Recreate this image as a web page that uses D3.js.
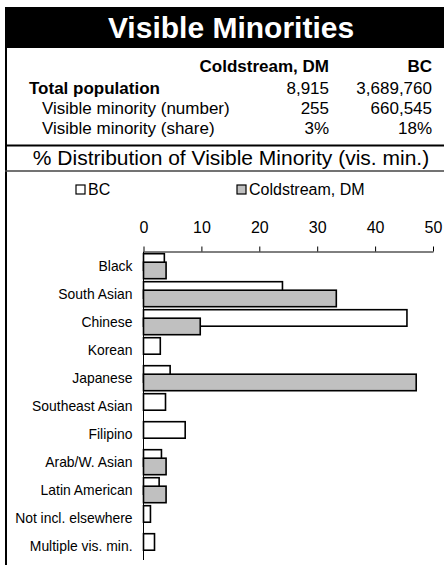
<!DOCTYPE html>
<html><head><meta charset="utf-8">
<script src="https://cdn.jsdelivr.net/npm/d3@7"></script>
<style>
html,body{margin:0;padding:0;background:#fff;}
svg{display:block;font-family:"Liberation Sans",Arial,sans-serif;}
</style></head>
<body>
<svg id="chart" width="444" height="565"></svg>
<script>
const title = "Visible Minorities";
const subtitle = "% Distribution of Visible Minority (vis. min.)";
const columns = ["Coldstream, DM", "BC"];
const rowLabels = ["Total population", "Visible minority (number)", "Visible minority (share)"];
const coldstreamStats = ["8,915", "255", "3%"];
const bcStats = ["3,689,760", "660,545", "18%"];

const categories = ["Black","South Asian","Chinese","Korean","Japanese","Southeast Asian","Filipino","Arab/W. Asian","Latin American","Not incl. elsewhere","Multiple vis. min."];
const bcValues = [3.6, 24.0, 45.5, 2.9, 4.6, 3.8, 7.2, 3.1, 2.7, 1.2, 1.9];
const coldstreamValues = [3.9, 33.3, 9.8, 0, 47.1, 0, 0, 3.9, 3.9, 0, 0];
const tickValues = [0, 10, 20, 30, 40, 50];
const legendLabels = ["BC", "Coldstream, DM"];

const svg = d3.select("#chart");
const font = "'Liberation Sans', Arial, sans-serif";

// Title band
svg.append("rect").attr("x", 5).attr("y", 7).attr("width", 439).attr("height", 41).attr("fill", "#000");
svg.append("text").attr("x", 231).attr("y", 38).attr("text-anchor", "middle")
  .attr("fill", "#fff").attr("font-weight", "bold").attr("font-size", 30).text(title);

// left border
svg.append("line").attr("x1", 6).attr("x2", 6).attr("y1", 48).attr("y2", 565).attr("stroke", "#000").attr("stroke-width", 2);

// Header table
const colX = [329, 432];
columns.forEach((c, i) => {
  svg.append("text").attr("x", colX[i]).attr("y", 72).attr("text-anchor", "end")
    .attr("font-weight", "bold").attr("font-size", 17).text(c);
});
const rowY = [94, 114, 134];
rowLabels.forEach((r, i) => {
  svg.append("text").attr("x", i === 0 ? 29 : 42).attr("y", rowY[i])
    .attr("font-weight", i === 0 ? "bold" : "normal").attr("font-size", 17).text(r);
  svg.append("text").attr("x", colX[0]).attr("y", rowY[i]).attr("text-anchor", "end").attr("font-size", 17).text(coldstreamStats[i]);
  svg.append("text").attr("x", colX[1]).attr("y", rowY[i]).attr("text-anchor", "end").attr("font-size", 17).text(bcStats[i]);
});
svg.append("line").attr("x1", 5).attr("x2", 444).attr("y1", 145.5).attr("y2", 145.5).attr("stroke", "#000").attr("stroke-width", 2);
svg.append("text").attr("x", 231).attr("y", 165).attr("text-anchor", "middle").attr("font-size", 21).text(subtitle);
svg.append("line").attr("x1", 5).attr("x2", 444).attr("y1", 171).attr("y2", 171).attr("stroke", "#444").attr("stroke-width", 1.5);

// Legend
const legendX = [76, 237];
const legendFill = ["#fff", "#c0c0c0"];
legendLabels.forEach((l, i) => {
  svg.append("rect").attr("x", legendX[i]).attr("y", 185).attr("width", 9).attr("height", 9)
    .attr("fill", legendFill[i]).attr("stroke", "#000").attr("stroke-width", 1.2);
  svg.append("text").attr("x", legendX[i] + 12).attr("y", 195).attr("font-size", 16).text(l);
});

// Scales
const x = d3.scaleLinear().domain([0, 50]).range([143.5, 433]);
const y = d3.scaleBand().domain(categories).range([252, 560]).paddingInner(0).paddingOuter(0);

// Axis
const axis = d3.axisTop(x).tickValues(tickValues).tickSize(5).tickSizeOuter(0).tickPadding(14);
const gAxis = svg.append("g").attr("transform", "translate(0,251.5)").call(axis);
gAxis.selectAll("text").attr("font-size", 16).attr("font-family", font).attr("fill", "#000");
gAxis.selectAll("line").attr("stroke", "#000");
gAxis.select(".domain").attr("stroke", "#000");

svg.append("line").attr("x1", x(0)).attr("x2", x(0)).attr("y1", 251.5).attr("y2", 560).attr("stroke", "#000").attr("stroke-width", 1);

// Bars
const barH = 16.5;
svg.append("g").selectAll("rect").data(categories.map((c, i) => ({c, v: bcValues[i]})).filter(d => d.v > 0))
  .join("rect")
  .attr("x", x(0)).attr("y", d => y(d.c) + 1.7)
  .attr("width", d => x(d.v) - x(0)).attr("height", barH)
  .attr("fill", "#fff").attr("stroke", "#000").attr("stroke-width", 1.6);
svg.append("g").selectAll("rect").data(categories.map((c, i) => ({c, v: coldstreamValues[i]})).filter(d => d.v > 0))
  .join("rect")
  .attr("x", x(0)).attr("y", d => y(d.c) + 10.2)
  .attr("width", d => x(d.v) - x(0)).attr("height", barH)
  .attr("fill", "#c0c0c0").attr("stroke", "#000").attr("stroke-width", 1.6);

// Category labels
svg.append("g").selectAll("text").data(categories).join("text")
  .attr("x", 132.5).attr("y", d => y(d) + y.bandwidth() / 2 + 4.8)
  .attr("text-anchor", "end").attr("font-size", 13.9).text(d => d);
</script>
</body></html>
